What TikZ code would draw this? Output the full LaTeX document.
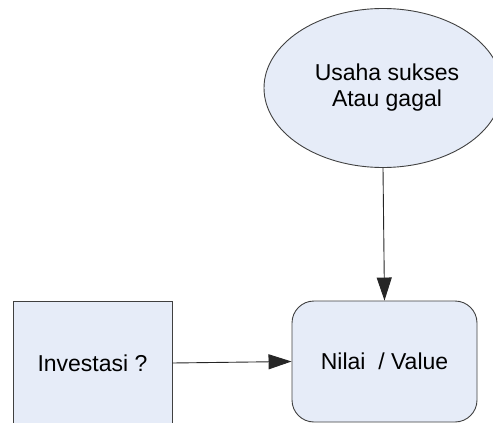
\documentclass[tikz,border=0pt]{standalone}
\usepackage{fontspec}
\setmainfont{Liberation Sans}
\usetikzlibrary{shapes.geometric,arrows.meta}
\definecolor{boxfill}{HTML}{E6ECF8}
\definecolor{boxline}{HTML}{404040}
\tikzset{
  shape base/.style={draw=boxline, fill=boxfill, line width=0.9pt, inner sep=0pt,
    font=\fontsize{23}{26}\selectfont, align=center},
  squarebox/.style={shape base, rectangle, minimum width=159pt, minimum height=124pt},
  roundbox/.style={shape base, rectangle, rounded corners=22pt, minimum width=185pt, minimum height=121pt},
  ovalbox/.style={shape base, ellipse, minimum width=238pt, minimum height=159pt},
  flow/.style={draw=black!85, line width=0.9pt, -{Triangle[length=23pt,width=15pt]}}
}
\begin{document}
\begin{tikzpicture}[x=1pt,y=-1pt]
  \clip (0,0) rectangle (493,423);
  \useasboundingbox (0,0) rectangle (493,423);
  \node[ovalbox] (usaha) at (383,88) {\hspace*{8pt}Usaha sukses\\\hspace*{8pt}Atau gagal};
  \node[roundbox] (nilai) at (384.5,361.5) {Nilai\ \ / Value};
  \node[squarebox] (inv) at (92.5,363) {Investasi ?};
  \draw[flow] (usaha.south) -- (nilai.north);
  \draw[flow] (inv.east) -- (nilai.west);
\end{tikzpicture}
\end{document}
